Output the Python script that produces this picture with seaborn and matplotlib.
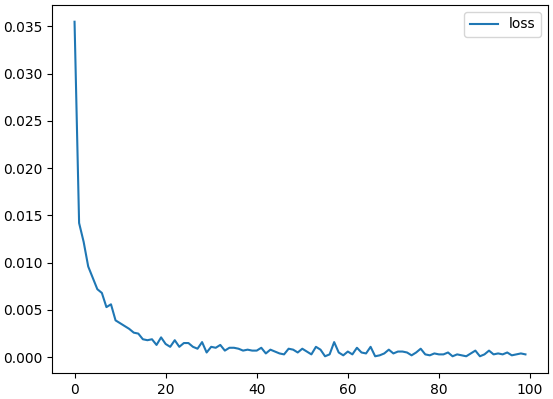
import matplotlib
matplotlib.use("Agg")
import matplotlib.pyplot as plt
import seaborn as sns
import pandas as pd
import numpy as np

epochs = list(range(100))
loss = [0.0355, 0.0142, 0.0122, 0.0096, 0.0084, 0.0072, 0.0068, 0.0053, 0.0056, 0.0039,
        0.0036, 0.0033, 0.0030, 0.0026, 0.0025, 0.0019, 0.0018, 0.0019, 0.0013, 0.0021,
        0.0014, 0.0011, 0.0018, 0.0011, 0.0015, 0.0015, 0.0011, 0.0009, 0.0016, 0.0005,
        0.0011, 0.0010, 0.0013, 0.0007, 0.0010, 0.0010, 0.0009, 0.0007, 0.0008, 0.0007,
        0.0007, 0.0010, 0.0004, 0.0008, 0.0006, 0.0004, 0.0003, 0.0009, 0.0008, 0.0005,
        0.0009, 0.0006, 0.0003, 0.0011, 0.0008, 0.0001, 0.0003, 0.0016, 0.0005, 0.0002,
        0.0006, 0.0003, 0.0010, 0.0005, 0.0004, 0.0011, 0.0001, 0.0002, 0.0004, 0.0008,
        0.0004, 0.0006, 0.0006, 0.0005, 0.0002, 0.0005, 0.0009, 0.0003, 0.0002, 0.0004,
        0.0003, 0.0003, 0.0005, 0.0001, 0.0003, 0.0002, 0.0001, 0.0004, 0.0007, 0.0001,
        0.0003, 0.0007, 0.0003, 0.0004, 0.0003, 0.0005, 0.0002, 0.0003, 0.0004, 0.0003]

df = pd.DataFrame({"epoch": epochs, "loss": loss})

fig = plt.figure(figsize=(5.53, 3.99), dpi=100)
ax = fig.add_axes([52/553, 1 - 373/399, (548-52)/553, (373-5)/399])
sns.lineplot(data=df, x="epoch", y="loss", ax=ax, label="loss", color="#1f77b4")
ax.set_xlabel("")
ax.set_ylabel("")
ax.set_xticks([0, 20, 40, 60, 80, 100])
ax.set_yticks(np.arange(0, 0.0351, 0.005))
ax.yaxis.set_major_formatter(matplotlib.ticker.FormatStrFormatter("%.3f"))
ax.legend(loc="upper right")
fig.savefig("out.png", dpi=100)
